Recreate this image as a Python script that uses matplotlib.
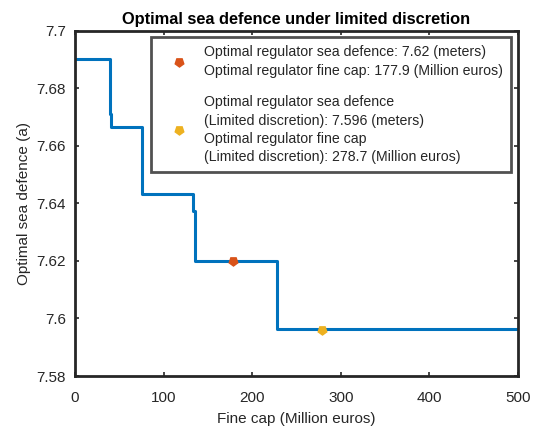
import numpy as np
import matplotlib
matplotlib.use("Agg")
import matplotlib.pyplot as plt
from matplotlib.ticker import FormatStrFormatter

plt.rcParams['font.family'] = ['Liberation Sans', 'DejaVu Sans']

# Step profile of the optimal defence height against the fine cap
fine_cap = [0, 39.5, 41, 75.5, 133.5, 135, 228.5, 500]
sea_defence = [7.690, 7.6712, 7.6667, 7.6434, 7.6373, 7.6200, 7.5963, 7.5963]

# Optimal regulator choices
opt_cap, opt_defence = 177.9, 7.62
lim_cap, lim_defence = 278.7, 7.596

blue = '#0072BD'
red = '#D95319'
yellow = '#EDB120'
dark = '#262626'

fig = plt.figure(figsize=(5.42, 4.29), dpi=100)
ax = fig.add_axes([0.1384, 0.1235, 0.8173, 0.8049])

ax.plot(fine_cap, sea_defence, drawstyle='steps-post', color=blue, lw=2.2)
shield = (5, 0, 180)
ax.plot(opt_cap, opt_defence, marker=shield, ls='none', color=red, ms=6.5,
        label='Optimal regulator sea defence: 7.62 (meters)\n'
              'Optimal regulator fine cap: 177.9 (Million euros)')
ax.plot(lim_cap, lim_defence, marker=shield, ls='none', color=yellow, ms=6.5,
        label='Optimal regulator sea defence\n(Limited discretion): 7.596 (meters)\n'
              'Optimal regulator fine cap\n(Limited discretion): 278.7 (Million euros)')

ax.set_xlim(0, 500)
ax.set_ylim(7.58, 7.7)
ax.set_xticks(np.arange(0, 501, 100))
ax.set_yticks(np.arange(7.58, 7.701, 0.02))
ax.yaxis.set_major_formatter(FormatStrFormatter('%g'))
ax.tick_params(direction='in', top=True, right=True, length=3, width=1.2,
               colors=dark, labelsize=11, labelcolor=dark)
ax.tick_params(axis='x', pad=10.5)
ax.tick_params(axis='y', pad=6.5)
for sp in ax.spines.values():
    sp.set_linewidth(2)
    sp.set_color(dark)

ax.set_xlabel('Fine cap (Million euros)', fontsize=11, color=dark, labelpad=5.5)
ax.set_ylabel('Optimal sea defence (a)', fontsize=11, color=dark, labelpad=4)
ax.set_title('Optimal sea defence under limited discretion', fontsize=11.8,
             fontweight='bold', color='black', pad=5)

leg = ax.legend(loc='upper right', bbox_to_anchor=(0.984, 0.982), fontsize=10.2,
                frameon=True, fancybox=False, borderpad=0.6, borderaxespad=0,
                labelspacing=1.25, handlelength=2.7, handletextpad=0.4, numpoints=1)
leg.get_frame().set_edgecolor(dark)
leg.get_frame().set_linewidth(2)
for t in leg.get_texts():
    t.set_color(dark)
    t.set_linespacing(1.38)

fig.savefig('out.png', dpi=100)
